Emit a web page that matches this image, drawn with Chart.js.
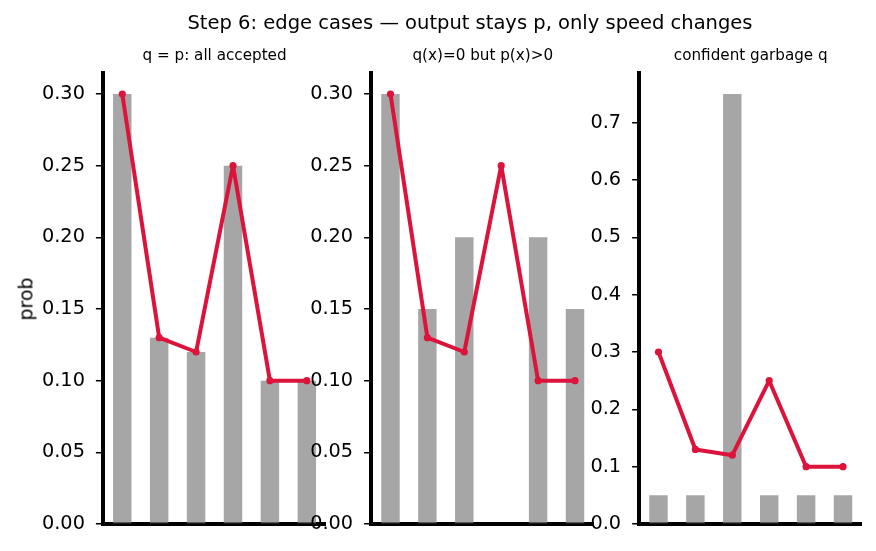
<!DOCTYPE html>
<html><head><meta charset="utf-8">
<script src="https://cdn.jsdelivr.net/npm/chart.js@4.4.1/dist/chart.umd.min.js"></script>
<style>
html,body{margin:0;padding:0;background:#fff;}
#fig{position:relative;width:876px;height:551px;overflow:hidden;font-family:"DejaVu Sans",sans-serif;color:#000;background:#fff;}
canvas{position:absolute;left:0;top:0;}
.t{position:absolute;white-space:nowrap;line-height:1;}
</style></head><body>
<div id="fig">
<canvas id="c0" width="876" height="551" style="width:876px;height:551px"></canvas>
<canvas id="c1" width="876" height="551" style="width:876px;height:551px"></canvas>
<canvas id="c2" width="876" height="551" style="width:876px;height:551px"></canvas>
<div class="t" id="sup" style="font-size:19.5px;top:13px;left:0;width:940px;text-align:center;">Step 6: edge cases — output stays p, only speed changes</div>
<div class="t" id="ylab" style="font-size:19px;left:26px;top:299px;transform:translate(-50%,-50%) rotate(-90deg);">prob</div>
</div>
<script>
// ---- data ----
const categories = [0, 1, 2, 3, 4, 5];               // token positions
const pTarget   = [0.30, 0.13, 0.12, 0.25, 0.10, 0.10]; // target distribution p (line)
const qSame     = [0.30, 0.13, 0.12, 0.25, 0.10, 0.10]; // q = p
const qZeroGap  = [0.30, 0.15, 0.20, 0.00, 0.20, 0.15]; // q(x)=0 but p(x)>0
const qGarbage  = [0.05, 0.05, 0.75, 0.05, 0.05, 0.05]; // confident garbage q
const yTicksSmall = [0, 0.05, 0.10, 0.15, 0.20, 0.25, 0.30];
const yTicksLarge = [0, 0.1, 0.2, 0.3, 0.4, 0.5, 0.6, 0.7];
const panelTitles = ['q = p: all accepted', 'q(x)=0 but p(x)>0', 'confident garbage q'];

// ---- layout ----
const W = 876, H = 551;
const axLefts = [102.9, 371.1, 639.1];
const axWidth = 223.3;
const axTop = 72.5, axBottom = 524;
const yAxisW = 80;
const BAR = 'rgba(128,128,128,0.7)';
const LINE = '#DC143C';

const panels = [
  {q: qSame, ticks: yTicksSmall, dec: 2},
  {q: qZeroGap, ticks: yTicksSmall, dec: 2},
  {q: qGarbage, ticks: yTicksLarge, dec: 1},
];

panels.forEach((pn, k) => {
  const ymax = Math.max(...pn.q, ...pTarget) * 1.05;
  const left = axLefts[k];
  const t = document.createElement('div');
  t.className = 't';
  t.textContent = panelTitles[k];
  t.style.fontSize = '15.2px';
  t.style.top = '47.5px';
  t.style.left = (left + axWidth / 2) + 'px';
  t.style.transform = 'translateX(-50%)';
  document.getElementById('fig').appendChild(t);

  new Chart(document.getElementById('c' + k), {
    type: 'bar',
    data: {
      datasets: [
        {
          type: 'line',
          data: categories.map((c, i) => ({x: c, y: pTarget[i]})),
          borderColor: LINE, backgroundColor: LINE,
          borderWidth: 4, borderJoinStyle: 'round', borderCapStyle: 'round',
          pointRadius: 3.6, pointBorderWidth: 0,
          pointBackgroundColor: LINE, tension: 0, order: 0, clip: false
        },
        {
          type: 'bar',
          data: categories.map((c, i) => ({x: c, y: pn.q[i]})),
          backgroundColor: BAR, borderWidth: 0,
          categoryPercentage: 1.0, barPercentage: 0.5, order: 1
        }
      ]
    },
    options: {
      responsive: false, animation: false, devicePixelRatio: 1,
      layout: {padding: {left: left - yAxisW, right: W - (left + axWidth), top: axTop, bottom: H - axBottom}},
      plugins: {legend: {display: false}, tooltip: {enabled: false}, title: {display: false}},
      scales: {
        x: {
          type: 'linear', min: -0.525, max: 5.525, offset: false,
          ticks: {display: false},
          grid: {display: true, drawOnChartArea: false, drawTicks: false, color: 'rgba(0,0,0,0)', lineWidth: 0},
          border: {display: true, color: '#000', width: 4},
          afterFit: s => { s.height = 0; }
        },
        y: {
          min: 0, max: ymax,
          afterBuildTicks: s => { s.ticks = pn.ticks.map(v => ({value: v})); },
          afterFit: s => { s.width = yAxisW; },
          ticks: {
            callback: v => Number(v).toFixed(pn.dec),
            font: {family: 'DejaVu Sans', size: 19.3}, color: '#000', padding: 11
          },
          grid: {display: true, drawOnChartArea: false, drawTicks: true, tickLength: 7, color: '#000', lineWidth: 1.5},
          border: {display: true, color: '#000', width: 4}
        }
      }
    }
  });
});
</script>
</body></html>
